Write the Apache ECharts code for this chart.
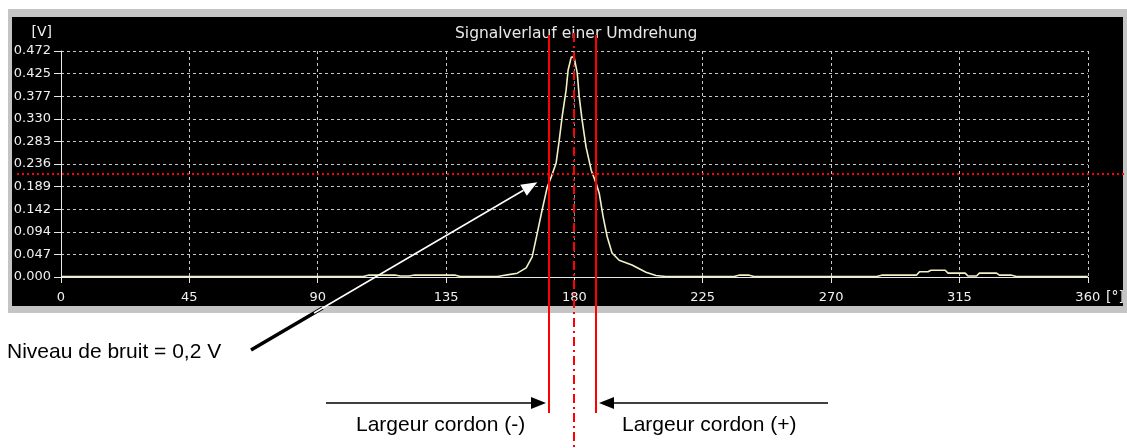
<!DOCTYPE html>
<html><head><meta charset="utf-8">
<script src="https://cdn.jsdelivr.net/npm/echarts@6/dist/echarts.min.js"></script>
<style>html,body{margin:0;padding:0;background:#fff}#c{width:1127px;height:448px}</style>
</head><body><div id="c"></div>
<script>
// ---- data ----
const angleDeg = [0, 100, 106, 108, 117, 119, 122, 124, 138, 140, 153, 155, 157, 160, 163.1, 165.2, 167.0, 168.7, 170.5, 171.9, 173.6, 174.7, 175.7, 177.1, 177.8, 178.9, 179.9, 181.0, 181.7, 182.7, 184.1, 185.9, 187.6, 188.7, 190.1, 191.5, 193.2, 195.7, 200.2, 205.1, 208.6, 212, 236, 238, 241, 243, 286, 288, 300, 301, 304, 305, 310, 311, 317, 318, 321, 322, 328, 329, 333, 335, 360];
const signalV = [0.001, 0.001, 0.001, 0.004, 0.004, 0.002, 0.002, 0.004, 0.004, 0.001, 0.001, 0.003, 0.005, 0.008, 0.019, 0.042, 0.092, 0.140, 0.188, 0.209, 0.238, 0.286, 0.334, 0.390, 0.432, 0.459, 0.459, 0.426, 0.376, 0.328, 0.271, 0.223, 0.196, 0.175, 0.125, 0.084, 0.050, 0.035, 0.025, 0.010, 0.003, 0.001, 0.001, 0.004, 0.004, 0.001, 0.001, 0.004, 0.004, 0.011, 0.011, 0.014, 0.014, 0.008, 0.008, 0.002, 0.002, 0.008, 0.008, 0.004, 0.004, 0.001, 0.001];
const xTickLabels = ['0', '45', '90', '135', '180', '225', '270', '315', '360'];
const yTickLabels = ['0.000', '0.047', '0.094', '0.142', '0.189', '0.236', '0.283', '0.330', '0.377', '0.425', '0.472'];
const yMax = 0.47175;
const noiseLevel = 0.215;
const cordonLimits = [171.2, 187.6];
const centerAngle = 180;
const arrowTarget = [167.0, 0.198];
const titleText = 'Signalverlauf einer Umdrehung';
const yUnit = '[V]';
const xUnit = '[°]';
const noteNoise = 'Niveau de bruit = 0,2 V';
const noteMinus = 'Largeur cordon (-)';
const notePlus = 'Largeur cordon (+)';

// ---- chart ----
const chart = echarts.init(document.getElementById('c'));
const pixFont = 'DejaVu Sans';
const gridColors = ['#c8c8c8','#c8c8c8','#c8c8c8','#c8c8c8','#5aa8c0','#c8c8c8','#c8c8c8','#c8c8c8','#c8c8c8'];
chart.setOption({
  animation: false,
  backgroundColor: '#ffffff',
  title: {
    text: titleText, left: 450, top: 21,
    textStyle: { color: '#e8e8e8', fontFamily: pixFont, fontSize: 15.5, fontWeight: 'normal' }
  },
  grid: { left: 61, top: 51, width: 1027, height: 226, containLabel: false },
  xAxis: {
    type: 'value', min: 0, max: 360, interval: 45,
    name: xUnit, nameLocation: 'end', nameGap: 13,
    nameTextStyle: { color: '#f0f0f0', fontFamily: pixFont, fontSize: 14, align: 'left', verticalAlign: 'top', padding: [13, 0, 0, 0] },
    axisLine: { lineStyle: { color: '#e8e8e8', width: 1 } },
    axisTick: { length: 6, lineStyle: { color: '#e8e8e8' } },
    axisLabel: { color: '#f0f0f0', fontFamily: pixFont, fontSize: 13, margin: 14,
      formatter: (v) => xTickLabels[Math.round(v / 45)] },
    splitLine: { show: true, lineStyle: { color: gridColors, type: [3, 3], width: 1 } }
  },
  yAxis: {
    type: 'value', min: 0, max: yMax, interval: yMax / 10,
    name: yUnit, nameLocation: 'end', nameGap: 12,
    nameTextStyle: { color: '#f0f0f0', fontFamily: pixFont, fontSize: 14, align: 'right', padding: [0, 9, 0, 0] },
    axisLine: { show: true, lineStyle: { color: '#e8e8e8', width: 1 } },
    axisTick: { show: true, length: 7, lineStyle: { color: '#e8e8e8' } },
    axisLabel: { color: '#f0f0f0', fontFamily: pixFont, fontSize: 13, margin: 10,
      formatter: (v) => yTickLabels[Math.round(v / (yMax / 10))] },
    splitLine: { show: true, lineStyle: { color: '#c8c8c8', type: [3, 3], width: 1 } }
  },
  series: [{
    type: 'line', showSymbol: false, symbol: 'none', z: 3,
    data: angleDeg.map((d, i) => [d, signalV[i]]),
    lineStyle: { color: '#f2f2c4', width: 1.6 }
  }]
});

const px = (x, y) => chart.convertToPixel({ gridIndex: 0 }, [x, y]);
const g = [];
// panel
g.push({ type: 'rect', z: -20, silent: true, shape: { x: 8, y: 9, width: 1119, height: 304 }, style: { fill: '#c4c4c4' } });
g.push({ type: 'rect', z: -19, silent: true, shape: { x: 12, y: 17, width: 1111, height: 289 }, style: { fill: '#000000' } });

const red = '#ff0000';
// noise level dotted line
const yNoise = px(0, noiseLevel)[1];
g.push({ type: 'line', z: 100, shape: { x1: 17, y1: yNoise, x2: 1127, y2: yNoise }, style: { stroke: red, lineWidth: 2, lineDash: [2, 3] } });
// cordon limits
cordonLimits.forEach(a => {
  const x = Math.round(px(a, 0)[0]);
  g.push({ type: 'line', z: 100, shape: { x1: x, y1: 35, x2: x, y2: 413 }, style: { stroke: red, lineWidth: 2 } });
});
const xc = Math.round(px(centerAngle, 0)[0]);
g.push({ type: 'line', z: 100, shape: { x1: xc, y1: 33, x2: xc, y2: 448 }, style: { stroke: red, lineWidth: 2, lineDash: [9, 4, 2, 4] } });

// arrow to noise level
const tip = px(arrowTarget[0], arrowTarget[1]);
const start = [251, 350];
const dx = tip[0] - start[0], dy = tip[1] - start[1];
const L = Math.hypot(dx, dy), ux = dx / L, uy = dy / L, nx = -uy, ny = ux;
const headL = 16, headW = 6.5;
const base = [tip[0] - ux * headL, tip[1] - uy * headL];
const sPanel = (308 - start[1]) / dy;
g.push({ type: 'line', z: 100, shape: { x1: start[0], y1: start[1], x2: start[0] + dx * sPanel, y2: start[1] + dy * sPanel }, style: { stroke: '#000', lineWidth: 3.5 } });
const sW = (313 - start[1]) / dy;
g.push({ type: 'line', z: 100, shape: { x1: start[0] + dx * sW, y1: start[1] + dy * sW, x2: base[0], y2: base[1] }, style: { stroke: '#ffffff', lineWidth: 1.5 } });
g.push({ type: 'polygon', z: 100, shape: { points: [tip, [base[0] + nx * headW, base[1] + ny * headW], [base[0] - nx * headW, base[1] - ny * headW]] }, style: { fill: '#ffffff' } });

// cordon width arrows
const xl = Math.round(px(cordonLimits[0], 0)[0]);
const xr = Math.round(px(cordonLimits[1], 0)[0]);
const ay = 403;
const hL = 15, hW = 6;
g.push({ type: 'line', z: 100, shape: { x1: 326, y1: ay, x2: xl - 3 - hL + 1, y2: ay }, style: { stroke: '#000', lineWidth: 1.5 } });
g.push({ type: 'polygon', z: 100, shape: { points: [[xl - 3, ay], [xl - 3 - hL, ay - hW], [xl - 3 - hL, ay + hW]] }, style: { fill: '#000' } });
g.push({ type: 'line', z: 100, shape: { x1: xr + 3 + hL - 1, y1: ay, x2: 828, y2: ay }, style: { stroke: '#000', lineWidth: 1.5 } });
g.push({ type: 'polygon', z: 100, shape: { points: [[xr + 3, ay], [xr + 3 + hL, ay - hW], [xr + 3 + hL, ay + hW]] }, style: { fill: '#000' } });

// notes
const noteFont = '21px "Liberation Sans", Arial, sans-serif';
g.push({ type: 'text', z: 100, style: { x: 7, y: 352, text: noteNoise, font: noteFont, fill: '#000', textAlign: 'left', textVerticalAlign: 'middle' } });
g.push({ type: 'text', z: 100, style: { x: 356, y: 425, text: noteMinus, font: noteFont, fill: '#000', textAlign: 'left', textVerticalAlign: 'middle' } });
g.push({ type: 'text', z: 100, style: { x: 622, y: 425, text: notePlus, font: noteFont, fill: '#000', textAlign: 'left', textVerticalAlign: 'middle' } });

chart.setOption({ graphic: g });
</script>
</body></html>
